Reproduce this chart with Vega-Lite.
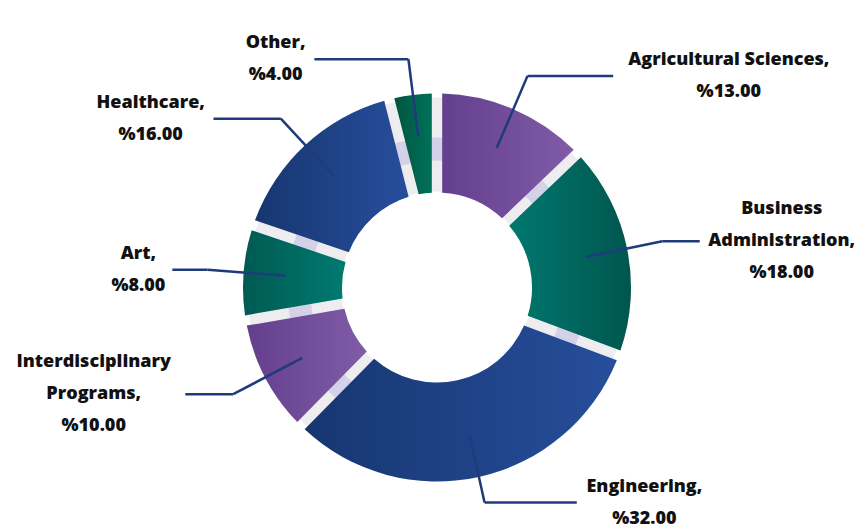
{
  "$schema": "https://vega.github.io/schema/vega-lite/v6.json",
  "width": 844,
  "height": 487,
  "autosize": {"type": "none"},
  "padding": {"left": 15, "top": 44, "right": 0, "bottom": 0},
  "background": "white",
  "config": {"view": {"stroke": null}},
  "data": {
    "values": [
      {"order": 1, "name": "Agricultural Sciences", "value": 13},
      {"order": 2, "name": "Business\nAdministration", "value": 18},
      {"order": 3, "name": "Engineering", "value": 32},
      {"order": 4, "name": "Interdisciplinary\nPrograms", "value": 10},
      {"order": 5, "name": "Art", "value": 8},
      {"order": 6, "name": "Healthcare", "value": 16},
      {"order": 7, "name": "Other", "value": 4}
    ]
  },
  "transform": [
    {"stack": "value", "groupby": [], "sort": [{"field": "order", "order": "ascending"}], "as": ["v0", "v1"]},
    {"calculate": "PI*(datum.v0+datum.v1)/101", "as": "a"},
    {"calculate": "sin(datum.a)>=0?1:-1", "as": "side"},
    {"calculate": "152*sin(datum.a)", "as": "sx"},
    {"calculate": "152*cos(datum.a)", "as": "sy"},
    {"calculate": "max(230*cos(datum.a),-215)", "as": "ey"},
    {"calculate": "datum.sx+(datum.ey-datum.sy)*tan(datum.a)", "as": "ex"},
    {"calculate": "datum.ex+datum.side*(35+60*cos(datum.a)*cos(datum.a))", "as": "hx"},
    {"calculate": "datum.name+',\\n%'+format(datum.value,'.2f')", "as": "label"},
    {"calculate": "split(datum.label,'\\n')", "as": "lines"},
    {"calculate": "max(length(datum.lines[0]),length(datum.lines[1]),length(datum.lines)>2?length(datum.lines[2]):0)", "as": "maxlen"},
    {"calculate": "datum.hx+datum.side*(10+4.8*datum.maxlen)", "as": "tx"},
    {"calculate": "datum.ey+(length(datum.lines)-1)*16", "as": "ty"}
  ],
  "layer": [
    {
      "mark": {"type": "arc", "innerRadius": 96, "outerRadius": 190, "color": "#ededf0"},
      "encoding": {
        "theta": {"field": "v0", "type": "quantitative", "scale": {"domain": [0, 101], "range": [0, 6.283185307]}},
        "theta2": {"field": "v1"}
      }
    },
    {
      "mark": {"type": "arc", "innerRadius": 127, "outerRadius": 150, "color": "#d3d1e7"},
      "encoding": {
        "theta": {"field": "v0", "type": "quantitative"},
        "theta2": {"field": "v1"}
      }
    },
    {
      "transform": [{"filter": {"field": "order", "oneOf": [1, 4]}}],
      "mark": {"type": "arc", "innerRadius": 95, "outerRadius": 194, "padAngle": 0.048,
        "color": {"gradient": "linear", "x1": 0, "y1": 0, "x2": 1, "y2": 0,
          "stops": [{"offset": 0, "color": "#643f8e"}, {"offset": 1, "color": "#805ba6"}]}},
      "encoding": {
        "theta": {"field": "v0", "type": "quantitative"},
        "theta2": {"field": "v1"}
      }
    },
    {
      "transform": [{"filter": {"field": "order", "oneOf": [2]}}],
      "mark": {"type": "arc", "innerRadius": 95, "outerRadius": 194, "padAngle": 0.048,
        "color": {"gradient": "linear", "x1": 0, "y1": 0, "x2": 1, "y2": 0,
          "stops": [{"offset": 0, "color": "#00786e"}, {"offset": 1, "color": "#00564f"}]}},
      "encoding": {
        "theta": {"field": "v0", "type": "quantitative"},
        "theta2": {"field": "v1"}
      }
    },
    {
      "transform": [{"filter": {"field": "order", "oneOf": [5]}}],
      "mark": {"type": "arc", "innerRadius": 95, "outerRadius": 194, "padAngle": 0.048,
        "color": {"gradient": "linear", "x1": 0, "y1": 0, "x2": 1, "y2": 0,
          "stops": [{"offset": 0, "color": "#005a52"}, {"offset": 1, "color": "#007a70"}]}},
      "encoding": {
        "theta": {"field": "v0", "type": "quantitative"},
        "theta2": {"field": "v1"}
      }
    },
    {
      "transform": [{"filter": {"field": "order", "oneOf": [3, 6]}}],
      "mark": {"type": "arc", "innerRadius": 95, "outerRadius": 194, "padAngle": 0.048,
        "color": {"gradient": "linear", "x1": 0, "y1": 0, "x2": 1, "y2": 0,
          "stops": [{"offset": 0, "color": "#173670"}, {"offset": 1, "color": "#274e9c"}]}},
      "encoding": {
        "theta": {"field": "v0", "type": "quantitative"},
        "theta2": {"field": "v1"}
      }
    },
    {
      "transform": [{"filter": {"field": "order", "oneOf": [7]}}],
      "mark": {"type": "arc", "innerRadius": 95, "outerRadius": 194, "padAngle": 0.048,
        "color": {"gradient": "linear", "x1": 0, "y1": 0, "x2": 1, "y2": 0,
          "stops": [{"offset": 0, "color": "#00553e"}, {"offset": 1, "color": "#00715a"}]}},
      "encoding": {
        "theta": {"field": "v0", "type": "quantitative"},
        "theta2": {"field": "v1"}
      }
    },
    {
      "mark": {"type": "rule", "color": "#1f3b7c", "strokeWidth": 2.5},
      "encoding": {
        "x": {"field": "sx", "type": "quantitative", "scale": {"domain": [-422, 422], "nice": false, "zero": false}, "axis": null},
        "y": {"field": "sy", "type": "quantitative", "scale": {"domain": [-243.5, 243.5], "nice": false, "zero": false}, "axis": null},
        "x2": {"field": "ex"},
        "y2": {"field": "ey"}
      }
    },
    {
      "mark": {"type": "rule", "color": "#1f3b7c", "strokeWidth": 2.5},
      "encoding": {
        "x": {"field": "ex", "type": "quantitative"},
        "y": {"field": "ey", "type": "quantitative"},
        "x2": {"field": "hx"}
      }
    },
    {
      "mark": {"type": "text", "font": "Open Sans", "fontSize": 18, "fontWeight": 800, "color": "#111111", "align": "center", "baseline": "middle", "lineBreak": "\n", "lineHeight": 32},
      "encoding": {
        "x": {"field": "tx", "type": "quantitative"},
        "y": {"field": "ty", "type": "quantitative"},
        "text": {"field": "label"}
      }
    }
  ]
}
